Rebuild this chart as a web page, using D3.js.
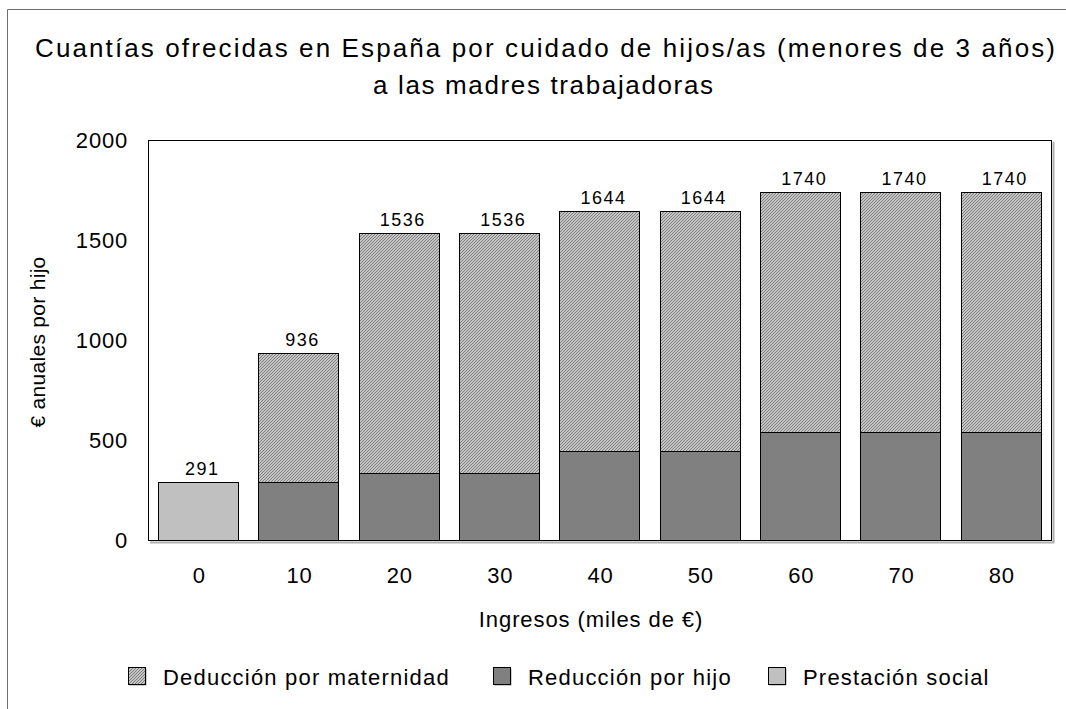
<!DOCTYPE html>
<html>
<head>
<meta charset="utf-8">
<script src="https://cdn.jsdelivr.net/npm/d3@7"></script>
<style>
  body { margin: 0; background: #fff; }
  svg { font-family: "Liberation Sans", Arial, sans-serif; }
</style>
</head>
<body>
<svg id="chart" width="1066" height="709"></svg>
<script>
// data
var categories = ["0", "10", "20", "30", "40", "50", "60", "70", "80"];
var prestacion = [291, 0, 0, 0, 0, 0, 0, 0, 0];
var reduccion = [0, 291, 336, 336, 444, 444, 540, 540, 540];
var deduccion = [0, 645, 1200, 1200, 1200, 1200, 1200, 1200, 1200];
var totals = [291, 936, 1536, 1536, 1644, 1644, 1740, 1740, 1740];
var yTicks = [0, 500, 1000, 1500, 2000];
var seriesNames = ["Deducción por maternidad", "Reducción por hijo", "Prestación social"];

var svg = d3.select("#chart"),
    margin = {top: 140, right: 15, bottom: 169, left: 148},
    width = 1051 - margin.left,
    height = 540 - margin.top;

// hatch pattern for the maternity deduction
var defs = svg.append("defs");
var pat = defs.append("pattern")
    .attr("id", "hatch")
    .attr("patternUnits", "userSpaceOnUse")
    .attr("width", 3).attr("height", 3);
pat.append("rect").attr("width", 3).attr("height", 3).attr("fill", "#c4c4c4");
pat.append("path").attr("d", "M-1,1 l2,-2 M0,3 l3,-3 M2,4 l2,-2")
    .attr("stroke", "#808080").attr("stroke-width", 1);

// outer frame
svg.append("path")
    .attr("d", "M7.5,709 V9.5 H1066")
    .attr("fill", "none").attr("stroke", "#6e6e6e").attr("stroke-width", 1);

// title
var title = svg.append("text")
    .attr("text-anchor", "middle")
    .attr("font-size", 26)
    .attr("fill", "#000");
title.append("tspan").attr("x", 545).attr("y", 57)
    .attr("textLength", 1020).attr("lengthAdjust", "spacing")
    .text("Cuantías ofrecidas en España por cuidado de hijos/as (menores de 3 años)");
title.append("tspan").attr("x", 543).attr("y", 94)
    .attr("textLength", 340).attr("lengthAdjust", "spacing")
    .text("a las madres trabajadoras");

var g = svg.append("g").attr("transform", "translate(" + margin.left + "," + margin.top + ")");

var x = d3.scaleBand()
    .domain(categories)
    .range([0, width])
    .paddingInner(0.2)
    .paddingOuter(0.1);

var y = d3.scaleLinear()
    .domain([0, 2000])
    .range([height, 0]);

// plot area shadow + border
g.append("path")
    .attr("d", "M2," + (height + 2.5) + " H" + (width + 2.5) + " V2")
    .attr("fill", "none").attr("stroke", "#b0b0b0").attr("stroke-width", 2);
g.append("rect")
    .attr("x", 0.5).attr("y", 0.5)
    .attr("width", width).attr("height", height)
    .attr("fill", "#fff").attr("stroke", "#000").attr("stroke-width", 1);

var series = [
  {name: seriesNames[2], values: prestacion, base: null, fill: "#c0c0c0"},
  {name: seriesNames[1], values: reduccion, base: null, fill: "#808080"},
  {name: seriesNames[0], values: deduccion, base: reduccion, fill: "url(#hatch)"}
];

series.forEach(function(s) {
  g.append("g")
    .selectAll("rect")
    .data(categories.map(function(c, i) {
      var b = s.base ? s.base[i] : 0;
      return {cat: c, y0: b, y1: b + s.values[i]};
    }).filter(function(d) { return d.y1 > d.y0; }))
    .enter().append("rect")
    .attr("x", function(d) { return Math.round(x(d.cat)) + 0.5; })
    .attr("y", function(d) { return Math.round(y(d.y1)) + 0.5; })
    .attr("width", Math.round(x.bandwidth()))
    .attr("height", function(d) { return Math.round(y(d.y0)) - Math.round(y(d.y1)); })
    .attr("fill", s.fill)
    .attr("stroke", "#000")
    .attr("stroke-width", 1);
});

// value labels
g.append("g")
  .selectAll("text")
  .data(totals)
  .enter().append("text")
  .attr("x", function(d, i) { return x(categories[i]) + x.bandwidth() / 2 + 4; })
  .attr("y", function(d) { return y(d) - 7; })
  .attr("text-anchor", "middle")
  .attr("font-size", 18)
  .attr("letter-spacing", 1.5)
  .text(function(d) { return d; });

// axes
var yAxis = g.append("g")
    .call(d3.axisLeft(y).tickValues(yTicks).tickFormat(d3.format("d")).tickSize(0).tickPadding(20));
yAxis.select(".domain").remove();
yAxis.selectAll("text").attr("font-size", 22).attr("fill", "#000")
    .attr("letter-spacing", 0.8)
    .attr("font-family", "Liberation Sans, Arial, sans-serif");

var xAxis = g.append("g")
    .attr("transform", "translate(0," + height + ")")
    .call(d3.axisBottom(x).tickSize(0).tickPadding(27));
xAxis.select(".domain").remove();
xAxis.selectAll("text").attr("font-size", 22).attr("fill", "#000")
    .attr("letter-spacing", 0.8)
    .attr("dx", 1)
    .attr("font-family", "Liberation Sans, Arial, sans-serif");

// axis titles
svg.append("text")
    .attr("x", 591).attr("y", 627)
    .attr("text-anchor", "middle")
    .attr("font-size", 22)
    .attr("letter-spacing", 0.9)
    .text("Ingresos (miles de €)");

svg.append("text")
    .attr("transform", "translate(45,342) rotate(-90)")
    .attr("text-anchor", "middle")
    .attr("font-size", 21)
    .attr("letter-spacing", 0.3)
    .text("€ anuales por hijo");

// legend
var legendX = [128, 493, 768];
var legendFill = ["url(#hatch)", "#808080", "#c0c0c0"];
var legend = svg.append("g")
  .selectAll("g")
  .data(seriesNames)
  .enter().append("g")
  .attr("transform", function(d, i) { return "translate(" + legendX[i] + ",667)"; });

legend.append("rect")
    .attr("x", 1.5).attr("y", 1.5)
    .attr("width", 17).attr("height", 17)
    .attr("fill", "#a0a0a0");
legend.append("rect")
    .attr("x", 0.5).attr("y", 0.5)
    .attr("width", 17).attr("height", 17)
    .attr("fill", function(d, i) { return legendFill[i]; })
    .attr("stroke", "#000").attr("stroke-width", 1);
legend.append("text")
    .attr("x", 35).attr("y", 18)
    .attr("font-size", 22)
    .attr("letter-spacing", 1.2)
    .text(function(d) { return d; });
</script>
</body>
</html>
